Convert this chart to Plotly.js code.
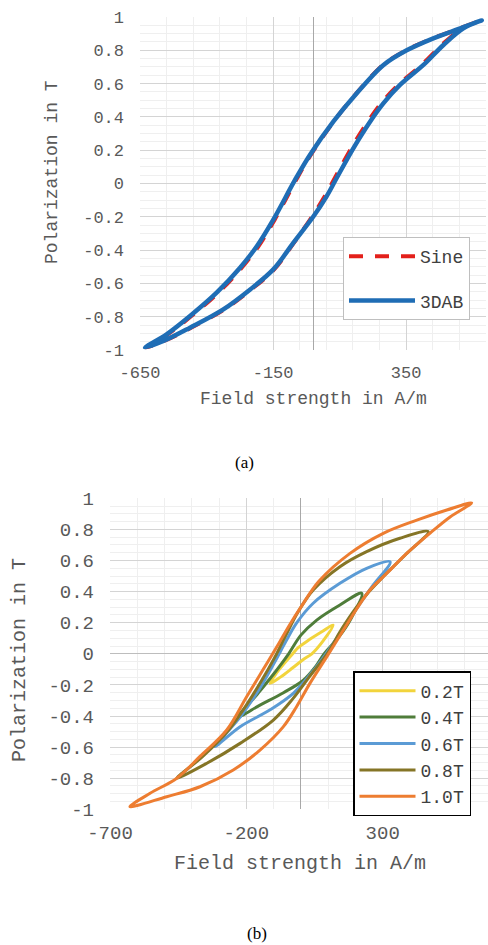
<!DOCTYPE html>
<html>
<head>
<meta charset="utf-8">
<script src="https://cdn.plot.ly/plotly-3.0.1.min.js"></script>
<style>html,body{margin:0;padding:0;background:#fff;}#chart{width:488px;height:945px;}</style>
</head>
<body>
<div id="chart"></div>
<script>
// ---------- data: chart (a) ----------
const sineH = [-628,-560,-458,-333,-232,-146,-72,-3,43,82,144,207,257,320,408,484,560,632, 548,450,350,263,157,78,-8,-63,-144,-205,-268,-356,-457,-546,-628];
const sineB = [-0.985,-0.946,-0.866,-0.756,-0.636,-0.516,-0.357,-0.197,-0.08,0.033,0.213,0.373,0.483,0.592,0.712,0.832,0.932,0.98, 0.93,0.872,0.80,0.712,0.53,0.373,0.173,0.023,-0.217,-0.377,-0.506,-0.656,-0.796,-0.906,-0.985];
const dabH = [-631,-562,-462,-337,-236,-149,-74,2,50,89,152,215,265,327,415,490,565,634, 550,452,352,265,158,77,-11,-67,-149,-211,-274,-362,-462,-550,-631];
const dabB = [-0.985,-0.946,-0.866,-0.756,-0.636,-0.516,-0.357,-0.197,-0.08,0.033,0.213,0.373,0.483,0.592,0.712,0.832,0.932,0.98, 0.93,0.872,0.80,0.712,0.53,0.373,0.173,0.023,-0.217,-0.377,-0.506,-0.656,-0.796,-0.906,-0.985];
const aXTicks = [-650,-150,350];
const aXLabels = ['-650','-150','350'];

// ---------- data: chart (b) ----------
const t02H = [-113,-75,-30,10,40,80,118, 75,30,-10,-30,-60,-88,-113];
const t02B = [-0.19,-0.15,-0.09,-0.035,0.0,0.08,0.185, 0.14,0.09,0.04,0.0,-0.06,-0.12,-0.19];
const t04H = [-229,-150,-64,9,55,85,140,185,223, 143,58,0,-45,-100,-160,-229];
const t04B = [-0.404,-0.33,-0.25,-0.17,-0.08,0.0,0.11,0.23,0.389, 0.314,0.217,0.12,0.0,-0.13,-0.26,-0.404];
const t06H = [-315,-223,-113,-28,40,92,150,200,260,327, 241,143,45,-15,-55,-95,-150,-220,-315];
const t06B = [-0.597,-0.469,-0.36,-0.254,-0.12,0.0,0.15,0.28,0.43,0.592, 0.55,0.453,0.325,0.2,0.08,-0.05,-0.22,-0.40,-0.597];
const t08H = [-455,-345,-223,-101,-30,30,96,150,200,250,310,385,467, 363,241,143,45,-10,-55,-95,-150,-200,-265,-360,-455];
const t08B = [-0.80,-0.704,-0.576,-0.426,-0.29,-0.15,0.0,0.16,0.29,0.40,0.51,0.64,0.785, 0.743,0.657,0.56,0.41,0.27,0.12,-0.02,-0.19,-0.33,-0.49,-0.66,-0.80];
const t10H = [-627,-492,-370,-248,-150,-65,-16,33,98,156,205,253,315,388,473,547,626, 535,425,302,180,65,0,-40,-80,-138,-199,-272,-370,-455,-553,-627];
const t10B = [-0.983,-0.919,-0.855,-0.747,-0.619,-0.47,-0.34,-0.19,-0.01,0.153,0.29,0.41,0.518,0.646,0.775,0.88,0.97, 0.925,0.86,0.775,0.646,0.465,0.30,0.19,0.07,-0.10,-0.276,-0.49,-0.66,-0.80,-0.897,-0.983];
const bXTicks = [-700,-200,300];
const bXLabels = ['-700','-200','300'];

// ---------- shared tick labels ----------
const yTicks = [1,0.8,0.6,0.4,0.2,0,-0.2,-0.4,-0.6,-0.8,-1];
const yLabels = ['1','0.8','0.6','0.4','0.2','0','-0.2','-0.4','-0.6','-0.8','-1'];

const MONO = 'Liberation Mono, Courier New, monospace';
const GREY = '#595959';
const SM = 1.0;

const traces = [
  {x: sineH, y: sineB, xaxis:'x', yaxis:'y', name:'Sine', mode:'lines', legend:'legend', legendgroup:'s',
   line:{color:'#e3201b', width:4, dash:'14px,12px', shape:'spline', smoothing:SM}},
  {x: dabH, y: dabB, xaxis:'x', yaxis:'y', name:'3DAB', mode:'lines', legend:'legend', legendgroup:'d',
   line:{color:'#1f6db5', width:4.5, shape:'spline', smoothing:SM}},
  {x: t02H, y: t02B, xaxis:'x2', yaxis:'y2', name:'0.2T', mode:'lines', legend:'legend2',
   line:{color:'#f2d43c', width:3, shape:'spline', smoothing:SM}},
  {x: t04H, y: t04B, xaxis:'x2', yaxis:'y2', name:'0.4T', mode:'lines', legend:'legend2',
   line:{color:'#4f7d3a', width:3, shape:'spline', smoothing:SM}},
  {x: t06H, y: t06B, xaxis:'x2', yaxis:'y2', name:'0.6T', mode:'lines', legend:'legend2',
   line:{color:'#5b9bd5', width:3, shape:'spline', smoothing:SM}},
  {x: t08H, y: t08B, xaxis:'x2', yaxis:'y2', name:'0.8T', mode:'lines', legend:'legend2',
   line:{color:'#857526', width:3, shape:'spline', smoothing:SM}},
  {x: t10H, y: t10B, xaxis:'x2', yaxis:'y2', name:'1.0T', mode:'lines', legend:'legend2',
   line:{color:'#ed7d31', width:3, shape:'spline', smoothing:SM}}
];

function xAxis(domain, range, tv, tt, size, anchor, minorTick0) {
  return {domain: domain, range: range, anchor: anchor, tickmode:'array', tickvals: tv, ticktext: tt,
    ticks:'', ticklabelstandoff: 10, showline:false, showgrid:true, gridcolor:'#d4d4d4', gridwidth:1,
    zeroline:true, zerolinecolor:'#a8a8a8', zerolinewidth:1,
    minor:{tickmode:'linear', tick0:minorTick0, dtick:100, showgrid:true, gridcolor:'#efefef', gridwidth:1},
    tickfont:{family:MONO, size:size, color:GREY}, fixedrange:true};
}
function yAxis(domain, size, anchor, zl) {
  return {domain: domain, range:[-1,1], anchor: anchor, tickmode:'array', tickvals: yTicks, ticktext: yLabels,
    ticks:'', ticklabelstandoff: 15, showline:false, showgrid:true, gridcolor:'#d4d4d4', gridwidth:1,
    zeroline:true, zerolinecolor: zl, zerolinewidth:1,
    minor:{tickmode:'linear', tick0:0, dtick:0.05, showgrid:true, gridcolor:'#efefef', gridwidth:1},
    tickfont:{family:MONO, size:size, color:GREY}, fixedrange:true};
}

const layout = {
  width:488, height:945, margin:{l:0,r:0,t:0,b:0}, paper_bgcolor:'#fff', plot_bgcolor:'#fff',
  showlegend:true,
  xaxis: xAxis([140/488, 486/488], [-650,650], aXTicks, aXLabels, 17, 'y', -650),
  yaxis: yAxis([1-350/945, 1-17/945], 17, 'x', '#d4d4d4'),
  xaxis2: xAxis([110/488, 1], [-700,686], bXTicks, bXLabels, 19, 'y2', -700),
  yaxis2: yAxis([1-809.3/945, 1-498.3/945], 19, 'x2', '#bdbdbd'),
  legend: {x:343/488, y:1-237/945, xanchor:'left', yanchor:'top', bgcolor:'#fff', bordercolor:'#bfbfbf', borderwidth:1,
    font:{family:MONO, size:18, color:'#404040'}, traceorder:'grouped', tracegroupgap:18, itemwidth:66,
    entrywidth:125, entrywidthmode:'pixels'},
  legend2: {x:353/488, y:1-671/945, xanchor:'left', yanchor:'top', bgcolor:'#fff', bordercolor:'#000', borderwidth:1.5,
    font:{family:MONO, size:18, color:'#404040'}, itemwidth:56, tracegroupgap:0,
    entrywidth:118, entrywidthmode:'pixels'},
  annotations: [
    {text:'Field strength in A/m', xref:'paper', yref:'paper', x:313/488, y:1-399/945, showarrow:false,
     xanchor:'center', yanchor:'middle', font:{family:MONO, size:18, color:GREY}},
    {text:'Polarization in T', xref:'paper', yref:'paper', x:52/488, y:1-172/945, showarrow:false, textangle:-90,
     xanchor:'center', yanchor:'middle', font:{family:MONO, size:18, color:GREY}},
    {text:'Field strength in A/m', xref:'paper', yref:'paper', x:299.5/488, y:1-863.3/945, showarrow:false,
     xanchor:'center', yanchor:'middle', font:{family:MONO, size:20, color:GREY}},
    {text:'Polarization in T', xref:'paper', yref:'paper', x:19/488, y:1-660/945, showarrow:false, textangle:-90,
     xanchor:'center', yanchor:'middle', font:{family:MONO, size:20, color:GREY}},
    {text:'(a)', xref:'paper', yref:'paper', x:244/488, y:1-462/945, showarrow:false,
     xanchor:'center', yanchor:'middle', font:{family:'Liberation Serif, Times New Roman, serif', size:17, color:'#000'}},
    {text:'(b)', xref:'paper', yref:'paper', x:257/488, y:1-933/945, showarrow:false,
     xanchor:'center', yanchor:'middle', font:{family:'Liberation Serif, Times New Roman, serif', size:17, color:'#000'}}
  ]
};

Plotly.newPlot('chart', traces, layout, {staticPlot:true, displayModeBar:false});
</script>
</body>
</html>
